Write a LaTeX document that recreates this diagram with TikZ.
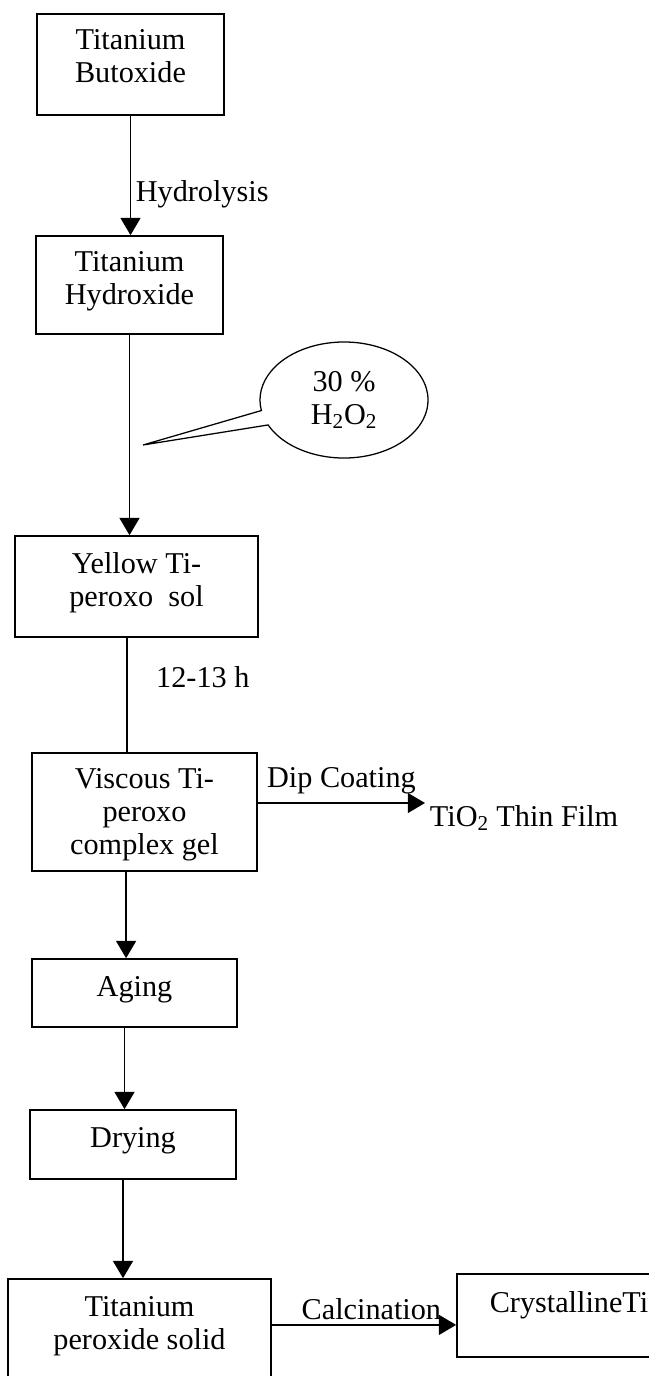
\documentclass[tikz,border=0pt]{standalone}
\usepackage{fontspec}
\setmainfont{Liberation Serif}
\usetikzlibrary{shapes.callouts, arrows.meta, positioning}

\begin{document}
\begin{tikzpicture}[
    x=0.025cm, y=-0.025cm,
    font=\fontsize{21.5}{23.4}\selectfont,
    box/.style={
        rectangle,
        draw,
        line width=1.2pt,
        inner sep=0pt,
        align=center
    },
    arrow/.style={
        -{Triangle[length=0.43cm,width=0.5cm]},
        line width=0.9pt
    },
    bubble/.style={
        ellipse callout,
        draw,
        line width=0.9pt,
        inner sep=0pt,
        align=center
    }
]
\useasboundingbox (0,0) rectangle (649,1376);

% Main chain
\node[box, minimum width=4.675cm, minimum height=2.525cm, text height=1.375cm, text depth=0.5cm] (butox) at (130.5,64.5) {Titanium\\Butoxide};
\node[box, minimum width=4.675cm, minimum height=2.45cm, text height=1.375cm, text depth=0.425cm] (hydrox) at (129.5,285) {Titanium\\Hydroxide};
\node[box, minimum width=6.075cm, minimum height=2.525cm, text height=1.375cm, text depth=0.4cm] (yellow) at (136.5,586.5) {Yellow Ti-\\peroxo\ \ sol};
\node[box, minimum width=5.625cm, minimum height=2.95cm, text height=2.2cm, text depth=0.1cm] (viscous) at (144.5,812) {Viscous Ti-\\peroxo\\complex gel};
\node[box, minimum width=5.125cm, minimum height=1.7cm, text height=0.55cm, text depth=0.4cm] (aging) at (134.5,993) {Aging};
\node[box, minimum width=5.15cm, minimum height=1.725cm, text height=0.55cm, text depth=0.425cm] (drying) at (133,1144.5) {Drying};
\node[box, minimum width=6.575cm, minimum height=2.775cm, text height=1.375cm, text depth=0.65cm] (solid) at (139.5,1334.5) {Titanium\\peroxide solid};
\node[box, minimum width=5.6cm, minimum height=2.075cm, text height=0.55cm, text depth=0.725cm] (crystal) at (569,1315.5) {CrystallineTi};

% Side products
\node[bubble, minimum width=4.2cm, minimum height=2.9cm, callout absolute pointer={(143,445)}] (h2o2) at (344,400) {30 \%\\H\textsubscript{2}O\textsubscript{2}};
\node[anchor=west] (film) at (425,818) {TiO\textsubscript{2} Thin Film};

% Connectors
\draw[arrow] (butox.south) -- (butox.south |- hydrox.north) node[pos=0.66, right] {Hydrolysis};
\draw[arrow] (hydrox.south) -- (hydrox.south |- yellow.north);
\draw[line width=0.9pt] ([xshift=-0.24cm]yellow.south) -- ([xshift=-0.24cm]yellow.south |- viscous.north) node[pos=0.34, right=0.6cm] {12-13 h};
\draw[arrow] ([yshift=0.225cm]viscous.east) -- ([yshift=0.225cm]viscous.east -| film.west) node[midway, above=0.08cm] {Dip Coating};
\draw[arrow] ([xshift=-0.46cm]viscous.south) -- ([xshift=-0.46cm]viscous.south |- aging.north);
\draw[arrow] ([xshift=-0.25cm]aging.south) -- ([xshift=-0.25cm]aging.south |- drying.north);
\draw[arrow] ([xshift=-0.25cm]drying.south) -- ([xshift=-0.25cm]drying.south |- solid.north);
\draw[arrow] ([yshift=0.24cm]solid.east) -- ([yshift=0.24cm]solid.east -| crystal.west) node[pos=0.54, above] {Calcination};

\end{tikzpicture}
\end{document}
